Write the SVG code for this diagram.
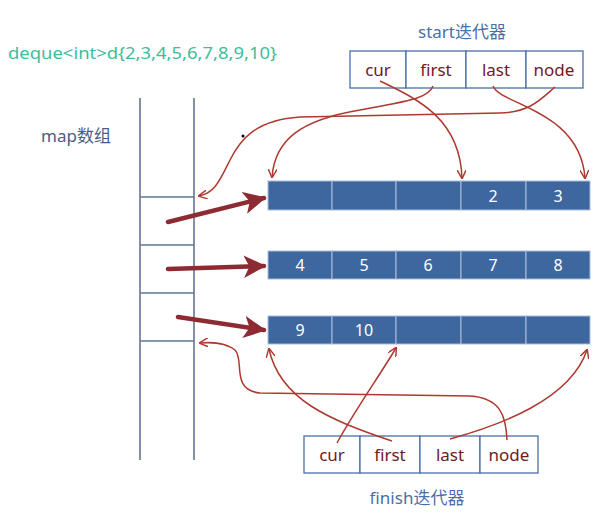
<svg xmlns="http://www.w3.org/2000/svg" width="599" height="520" viewBox="0 0 599 520">
<defs>
<style>
.title{font-family:"Noto Sans","Noto Sans CJK SC",sans-serif;font-size:17px}
.cell{fill:#fff;stroke:#4a6fa8;stroke-width:1.3}
.ctxt{font-family:"Noto Sans","Noto Sans CJK SC",sans-serif;font-size:17px;fill:#6e1a1e;text-anchor:middle}
.blk{fill:#3d679e;stroke:#a9bfdc;stroke-width:1}
.btxt{font-family:"Noto Sans",sans-serif;font-size:16px;fill:#fff;text-anchor:middle}
.map{stroke:#66758f;stroke-width:1.6;fill:none}
.thin{fill:none;stroke:#ad3a30;stroke-width:1.5}
.thick{fill:none;stroke:#8d2a32;stroke-width:4.5;stroke-linecap:round}
</style>
<marker id="ah" viewBox="0 0 10 10" refX="9" refY="5" markerWidth="9" markerHeight="9" markerUnits="userSpaceOnUse" orient="auto">
<path d="M0,0 L10,5 L0,10" fill="none" stroke="#ad3a30" stroke-width="1.6"/>
</marker>
<marker id="ahb" viewBox="0 0 10 10" refX="9" refY="5" markerWidth="5" markerHeight="5" orient="auto">
<path d="M0,0 L10,5 L0,10 L2.5,5 Z" fill="#8d2a32"/>
</marker>
</defs>
<rect width="599" height="520" fill="#fff"/>
<text class="title" x="8" y="59" fill="#3dbd9a" textLength="269" lengthAdjust="spacingAndGlyphs">deque&lt;int&gt;d{2,3,4,5,6,7,8,9,10}</text>
<text class="title" x="41" y="142" fill="#4a5e85">map数组</text>
<circle cx="243" cy="136" r="1.5" fill="#000"/>
<g id="map">
<path class="map" d="M140,98 V460 M194,98 V460 M140,197 H194 M140,245 H194 M140,293 H194 M140,341 H194"/>
</g>
<g id="start">
<text class="title" x="462" y="38" fill="#4a6fa8" text-anchor="middle">start迭代器</text>
<rect class="cell" x="350" y="51" width="56" height="37"/>
<rect class="cell" x="406" y="51" width="60" height="37"/>
<rect class="cell" x="466" y="51" width="60" height="37"/>
<rect class="cell" x="526" y="51" width="57" height="37"/>
<text class="ctxt" x="378" y="76">cur</text>
<text class="ctxt" x="436" y="76">first</text>
<text class="ctxt" x="496" y="76">last</text>
<text class="ctxt" x="554" y="76">node</text>
</g>
<g id="finish">
<rect class="cell" x="304" y="436" width="56" height="37"/>
<rect class="cell" x="360" y="436" width="60" height="37"/>
<rect class="cell" x="420" y="436" width="60" height="37"/>
<rect class="cell" x="480" y="436" width="58" height="37"/>
<text class="ctxt" x="332" y="461">cur</text>
<text class="ctxt" x="390" y="461">first</text>
<text class="ctxt" x="450" y="461">last</text>
<text class="ctxt" x="509" y="461">node</text>
<text class="title" x="417" y="504" fill="#4a6fa8" text-anchor="middle">finish迭代器</text>
</g>
<g id="block1">
<rect class="blk" x="268" y="181" width="64" height="29"/>
<rect class="blk" x="332" y="181" width="64" height="29"/>
<rect class="blk" x="396" y="181" width="65" height="29"/>
<rect class="blk" x="461" y="181" width="65" height="29"/>
<rect class="blk" x="526" y="181" width="64" height="29"/>
<text class="btxt" x="493" y="202">2</text>
<text class="btxt" x="558" y="202">3</text>
</g>
<g id="block2">
<rect class="blk" x="268" y="251" width="64" height="28"/>
<rect class="blk" x="332" y="251" width="64" height="28"/>
<rect class="blk" x="396" y="251" width="65" height="28"/>
<rect class="blk" x="461" y="251" width="65" height="28"/>
<rect class="blk" x="526" y="251" width="64" height="28"/>
<text class="btxt" x="300" y="271">4</text>
<text class="btxt" x="364" y="271">5</text>
<text class="btxt" x="428" y="271">6</text>
<text class="btxt" x="493" y="271">7</text>
<text class="btxt" x="558" y="271">8</text>
</g>
<g id="block3">
<rect class="blk" x="268" y="316" width="64" height="28"/>
<rect class="blk" x="332" y="316" width="64" height="28"/>
<rect class="blk" x="396" y="316" width="65" height="28"/>
<rect class="blk" x="461" y="316" width="65" height="28"/>
<rect class="blk" x="526" y="316" width="64" height="28"/>
<text class="btxt" x="300" y="336">9</text>
<text class="btxt" x="364" y="336">10</text>
</g>
<g id="connectors">
<path class="thick" d="M168,222 L264,198" marker-end="url(#ahb)"/>
<path class="thick" d="M168,269 L264,266" marker-end="url(#ahb)"/>
<path class="thick" d="M178,317 L264,330" marker-end="url(#ahb)"/>
<path class="thin" d="M380,81 C420,100 460,120 462,178" marker-end="url(#ah)"/>
<path class="thin" d="M433,86 C428,100 400,102 360,110 C300,120 275,140 272,177" marker-end="url(#ah)"/>
<path class="thin" d="M493,86 C500,105 580,110 585,178" marker-end="url(#ah)"/>
<path class="thin" d="M555,87 C540,100 530,112 500,113 L300,117 C255,120 240,140 230,160 C220,180 215,193 199,196" marker-end="url(#ah)"/>
<path class="thin" d="M337,443 C355,410 380,375 396,348" marker-end="url(#ah)"/>
<path class="thin" d="M392,441 C330,420 280,400 269,349" marker-end="url(#ah)"/>
<path class="thin" d="M450,439 C500,425 570,400 587,350" marker-end="url(#ah)"/>
<path class="thin" d="M507,440 C506,415 500,398 470,396 L260,393 C230,390 245,360 235,350 C225,342 212,342 200,343" marker-end="url(#ah)"/>
</g>
</svg>
